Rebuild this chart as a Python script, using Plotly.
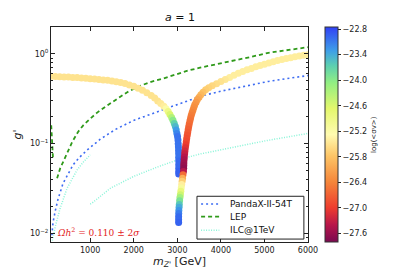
import plotly.graph_objects as go

# ---------------- data ----------------
# relic-density band, left branch
m_left = [100, 200, 300, 400, 500, 600, 700, 800, 900, 1000, 1100, 1200, 1300, 1400,
          1500, 1600, 1700, 1800, 1900, 2000, 2100, 2200, 2300, 2400, 2480, 2550,
          2620, 2690, 2740, 2790, 2830, 2870, 2900, 2930, 2955, 2975, 2990, 3005,
          3015, 3020, 3025, 3028, 3030, 3030, 3032, 3032, 3032, 3032, 3032]
g_left = [0.565, 0.562, 0.558, 0.555, 0.552, 0.548, 0.545, 0.540, 0.535, 0.530, 0.525,
          0.520, 0.514, 0.508, 0.500, 0.490, 0.480, 0.468, 0.452, 0.436, 0.415, 0.394,
          0.370, 0.344, 0.322, 0.299, 0.280, 0.262, 0.245, 0.228, 0.212, 0.196, 0.182,
          0.168, 0.155, 0.142, 0.130, 0.120, 0.110, 0.100, 0.092, 0.084, 0.077, 0.070,
          0.064, 0.058, 0.053, 0.049, 0.046]
sv_left = [-25.5, -25.5, -25.5, -25.5, -25.5, -25.5, -25.5, -25.5, -25.5, -25.5, -25.5,
           -25.5, -25.5, -25.5, -25.5, -25.5, -25.5, -25.5, -25.5, -25.5, -25.5, -25.5,
           -25.5, -25.5, -25.5, -25.5, -25.45, -25.4, -25.2, -24.9, -24.6, -24.3, -24.0,
           -23.7, -23.5, -23.3, -23.15, -23.05, -23.05, -23.05, -23.05, -23.05, -23.05,
           -23.05, -23.0, -23.0, -23.0, -22.95, -22.95]

# relic-density band, right branch (from 6 TeV down to the resonance, then the tail)
m_right = [6000, 5900, 5800, 5700, 5600, 5500, 5400, 5300, 5200, 5100, 5000, 4900, 4800,
           4700, 4600, 4500, 4400, 4300, 4200, 4100, 4000, 3900, 3800, 3720, 3650, 3590,
           3540, 3500, 3460, 3430, 3400, 3380, 3360, 3340, 3320, 3305, 3290, 3275, 3262,
           3250, 3238, 3226, 3215, 3205, 3195, 3185, 3175, 3168, 3160, 3155, 3150, 3148,
           3146, 3140, 3130, 3120, 3110, 3100, 3090, 3080, 3070, 3060, 3052, 3045, 3040,
           3035, 3032, 3030, 3030, 3030]
g_right = [0.98, 0.965, 0.95, 0.93, 0.91, 0.89, 0.87, 0.845, 0.82, 0.795, 0.77, 0.745,
           0.72, 0.69, 0.665, 0.638, 0.608, 0.578, 0.548, 0.52, 0.492, 0.466, 0.442, 0.42,
           0.398, 0.375, 0.352, 0.33, 0.31, 0.29, 0.272, 0.255, 0.238, 0.222, 0.207,
           0.193, 0.18, 0.167, 0.155, 0.144, 0.133, 0.123, 0.114, 0.105, 0.097, 0.09,
           0.083, 0.077, 0.071, 0.066, 0.061, 0.057, 0.053, 0.049, 0.045, 0.041, 0.038,
           0.035, 0.032, 0.0295, 0.027, 0.025, 0.023, 0.021, 0.0195, 0.018, 0.0166,
           0.0153, 0.0142, 0.0132]
sv_right = [-25.4, -25.4, -25.4, -25.4, -25.4, -25.4, -25.4, -25.4, -25.4, -25.4, -25.4,
            -25.4, -25.4, -25.4, -25.4, -25.4, -25.4, -25.4, -25.4, -25.45, -25.5, -25.55,
            -25.6, -25.65, -25.7, -25.8, -25.9, -26.0, -26.1, -26.2, -26.25, -26.3, -26.35,
            -26.4, -26.45, -26.5, -26.55, -26.6, -26.65, -26.7, -26.75, -26.8, -26.85,
            -26.9, -27.0, -27.1, -27.2, -27.3, -27.4, -27.5, -27.55, -27.6, -27.65, -27.4,
            -26.6, -26.0, -25.7, -25.4, -25.1, -24.8, -24.5, -24.2, -23.9, -23.6, -23.4,
            -23.25, -23.1, -23.0, -23.0, -22.95]

# PandaX-II-54T
m_pandax = [120, 146, 200, 261, 376, 500, 607, 750, 931, 1231, 1577, 1993, 2400, 2778,
            3200, 3540, 4000, 4303, 4700, 5088, 5500, 6000]
g_pandax = [0.0095, 0.0132, 0.018, 0.024, 0.036, 0.047, 0.058, 0.07, 0.085, 0.112, 0.144,
            0.181, 0.216, 0.25, 0.295, 0.339, 0.385, 0.414, 0.455, 0.494, 0.53, 0.575]

# LEP (two pieces, None = gap)
m_lep = [105, 115, 125, 135, 145, None, 240, 310, 400, 490, 585, 720, 840, 1000, 1160,
         1400, 1620, 1850, 2085, 2400, 2690, 3000, 3240, 3500, 3770, 4000, 4300, 4700,
         5090, 5500, 6000]
g_lep = [0.16, 0.13, 0.105, 0.085, 0.07, None, 0.041, 0.053, 0.066, 0.081, 0.104, 0.135,
         0.16, 0.19, 0.222, 0.268, 0.318, 0.375, 0.43, 0.49, 0.535, 0.60, 0.652, 0.70,
         0.745, 0.78, 0.84, 0.93, 1.03, 1.1, 1.19]

# ILC@1TeV (two pieces)
m_ilc = [115, 145, 200, 307, 469, 600, 700, 850, 1000, None, 1000, 1046, 1462, 1993,
         2547, 3009, 3540, 4303, 5088, 6000]
g_ilc = [0.0078, 0.0088, 0.012, 0.0188, 0.0318, 0.042, 0.051, 0.063, 0.075, None,
         0.0212, 0.0218, 0.0318, 0.043, 0.055, 0.066, 0.077, 0.092, 0.109, 0.130]

series_names = ["PandaX-II-54T", "LEP", "ILC@1TeV"]
x_ticks = [1000, 2000, 3000, 4000, 5000, 6000]
y_ticks = [0.01, 0.1, 1]
y_ticktext = ["10<sup>−2</sup>", "10<sup>−1</sup>", "10<sup>0</sup>"]
cb_ticks = [-22.8, -23.4, -24.0, -24.6, -25.2, -25.8, -26.4, -27.0, -27.6]

# ---------------- figure ----------------
colorscale = [
    [0.00, "#7a0a50"],
    [0.08, "#b8164a"],
    [0.16, "#ee3d2e"],
    [0.28, "#f5863a"],
    [0.40, "#fdc566"],
    [0.50, "#fffbb0"],
    [0.62, "#e4f76c"],
    [0.74, "#92ef82"],
    [0.82, "#5ccfb0"],
    [0.89, "#3e9ee8"],
    [1.00, "#3040f5"],
]

styles = [
    dict(color="#3d6cf2", width=1.6, dash="2px,3px"),
    dict(color="#2f9a1a", width=1.8, dash="4px,3px"),
    dict(color="#8af5d8", width=1.5, dash="1px,1.5px"),
]

fig = go.Figure()
for mx, gy, nm, st in zip([m_pandax, m_lep, m_ilc], [g_pandax, g_lep, g_ilc],
                          series_names, styles):
    fig.add_trace(go.Scatter(x=mx, y=gy, mode="lines", name=nm, line=st,
                             showlegend=False))

fig.add_trace(go.Scatter(x=m_left, y=g_left, mode="markers", showlegend=False,
                         marker=dict(size=7, color=sv_left, coloraxis="coloraxis",
                                     line=dict(width=0))))
fig.add_trace(go.Scatter(x=m_right, y=g_right, mode="markers", showlegend=False,
                         marker=dict(size=7, color=sv_right, coloraxis="coloraxis",
                                     line=dict(width=0))))

minor_y = [k * 10.0 ** e for e in (-3, -2, -1, 0) for k in range(2, 10)]
minor_y = [v for v in minor_y if 0.008 <= v <= 2]

axis_font = dict(family="DejaVu Sans", size=8, color="#222")

# compact legend box (matplotlib-like), drawn in paper coordinates
shapes = [dict(type="rect", xref="paper", yref="paper", x0=0.568, x1=0.984,
               y0=0.0136, y1=0.2127, line=dict(color="#222", width=1),
               fillcolor="white", layer="above")]
annotations = []
legend_rows = [0.1765, 0.1176, 0.0543]
for nm, st, yy in zip(series_names, styles, legend_rows):
    shapes.append(dict(type="line", xref="paper", yref="paper", x0=0.584, x1=0.655,
                       y0=yy, y1=yy, line=st, layer="above"))
    annotations.append(dict(text=nm, x=0.69, y=yy, xref="paper", yref="paper",
                            xanchor="left", yanchor="middle", showarrow=False,
                            font=dict(family="DejaVu Sans", size=9, color="#111")))

annotations += [
    dict(text="<i>a</i> = 1", x=0.5, y=1, xref="paper", yref="paper",
         xanchor="center", yanchor="bottom", yshift=1, showarrow=False,
         font=dict(family="DejaVu Sans", size=11, color="#111")),
    dict(text="<i>Ωh</i><sup>2</sup> = 0.110 ± 2<i>σ</i>", x=0.014, y=0.047,
         xref="paper", yref="paper", xanchor="left", yanchor="middle",
         showarrow=False,
         font=dict(family="DejaVu Serif", size=9, color="#e3231c")),
    dict(text="log(&lt;σv&gt;)", x=1.255, y=0.5, xref="paper", yref="paper",
         xanchor="center", yanchor="middle", textangle=-90, showarrow=False,
         font=dict(family="DejaVu Sans", size=7, color="#222")),
]

fig.update_layout(
    width=415, height=277,
    margin=dict(l=51, r=107, t=27, b=29),
    paper_bgcolor="white", plot_bgcolor="white",
    font=dict(family="DejaVu Sans", color="#222"),
    showlegend=False,
    coloraxis=dict(
        colorscale=colorscale, cmin=-27.8, cmax=-22.75,
        colorbar=dict(x=1.066, xanchor="left", y=0.5, yanchor="middle",
                      len=1, lenmode="fraction", thickness=13, xpad=0, ypad=0,
                      outlinewidth=1, outlinecolor="#333",
                      tickmode="array", tickvals=cb_ticks, tickformat=".1f",
                      ticks="outside", ticklen=3, tickcolor="#222",
                      tickfont=dict(family="DejaVu Sans", size=8, color="#222")),
    ),
    xaxis=dict(range=[100, 6000], tickmode="array", tickvals=x_ticks,
               ticks="inside", ticklen=4, tickcolor="#222",
               showline=True, linecolor="#222", linewidth=1, mirror="allticks",
               showgrid=False, zeroline=False, tickfont=axis_font,
               title=dict(text="<i>m</i><sub><i>Z'</i></sub> [GeV]",
                          font=dict(family="DejaVu Sans", size=11, color="#222"),
                          standoff=3)),
    yaxis=dict(type="log", range=[-2.097, 0.301], tickmode="array",
               tickvals=y_ticks, ticktext=y_ticktext,
               ticks="inside", ticklen=4, tickcolor="#222",
               minor=dict(tickmode="array", tickvals=minor_y, ticks="inside",
                          ticklen=2, tickcolor="#222", showgrid=False),
               showline=True, linecolor="#222", linewidth=1, mirror="allticks",
               showgrid=False, zeroline=False, tickfont=axis_font,
               title=dict(text="<i>g'</i>",
                          font=dict(family="DejaVu Sans", size=11, color="#222"),
                          standoff=6)),
    shapes=shapes,
    annotations=annotations,
)

# remove the default 8px page margin so the figure sits at the window's corner
fig.write_html("out.html",
               config={"displayModeBar": False},
               post_script="document.body.style.margin='0';"
                           "document.body.style.overflow='hidden';")
